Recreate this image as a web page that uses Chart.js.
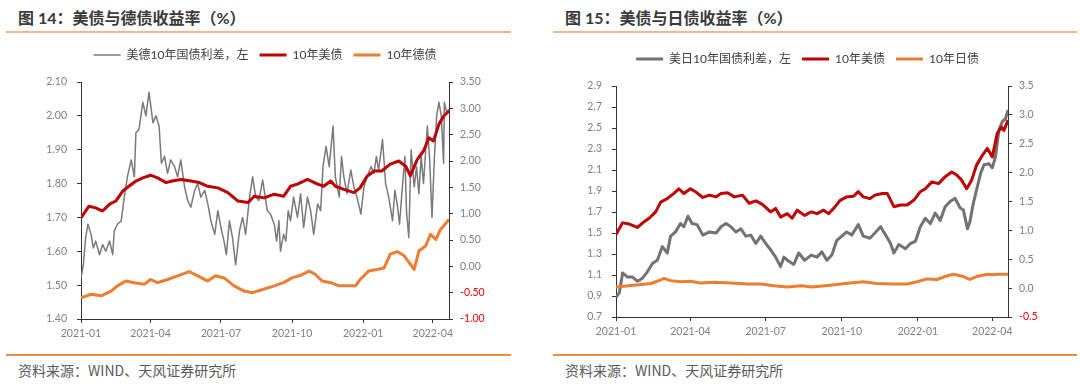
<!DOCTYPE html>
<html>
<head>
<meta charset="utf-8">
<script src="https://cdn.jsdelivr.net/npm/chart.js@4.4.1/dist/chart.umd.min.js"></script>
<style>
body { margin: 0; width: 1080px; height: 386px; background: #fff; position: relative; overflow: hidden; }
.title { position: absolute; top: 8px; font: bold 16px/20px Lato, "Noto Sans CJK SC", sans-serif; color: #3a3a3a; white-space: nowrap; }
.rule { position: absolute; height: 2px; }
.rule.top { top: 31px; background: #f5b58a; }
.rule.bot { top: 354px; background: #ef8a43; }
.src { position: absolute; top: 361px; font: 14px/18px "Noto Sans CJK SC", sans-serif; color: #595959; white-space: nowrap; }
canvas { position: absolute; }
</style>
</head>
<body>
<div class="title" style="left:18px">图 14：美债与德债收益率（%）</div>
<div class="rule top" style="left:6px;width:505px"></div>
<canvas id="c14" width="530" height="308" style="left:0;top:38px"></canvas>
<div class="rule bot" style="left:6px;width:505px"></div>
<div class="src" style="left:18px">资料来源：WIND、天风证券研究所</div>

<div class="title" style="left:565px">图 15：美债与日债收益率（%）</div>
<div class="rule top" style="left:553px;width:524px"></div>
<canvas id="c15" width="525" height="302" style="left:545px;top:42px"></canvas>
<div class="rule bot" style="left:553px;width:524px"></div>
<div class="src" style="left:565px">资料来源：WIND、天风证券研究所</div>

<script>
// x values are days counted from 2021-01-01
const quarterDays = [0, 90, 181, 273, 365, 455];
const quarterLabels = ['2021-01', '2021-04', '2021-07', '2021-10', '2022-01', '2022-04'];

// Fig 14: US vs German 10Y
const spreadDeDays = [0, 3, 6, 9, 13, 16, 19, 24, 28, 32, 37, 41, 43, 47, 52, 56, 60, 65, 69, 71, 75, 80, 84, 88, 93, 97, 101, 104, 108, 112, 116, 121, 125, 129, 134, 138, 142, 147, 151, 155, 160, 164, 168, 173, 177, 181, 185, 188, 192, 196, 200, 205, 209, 213, 218, 222, 226, 230, 235, 241, 245, 250, 253, 256, 258, 262, 265, 268, 271, 275, 280, 284, 288, 293, 297, 301, 306, 310, 313, 317, 321, 326, 329, 334, 337, 340, 344, 349, 353, 357, 362, 366, 370, 375, 379, 382, 385, 390, 394, 398, 403, 406, 409, 412, 415, 419, 421, 424, 427, 431, 434, 437, 440, 443, 448, 451, 454, 457, 460, 463, 466, 469, 470, 473, 476];
const spreadDe = [1.52, 1.56, 1.64, 1.68, 1.65, 1.61, 1.63, 1.59, 1.62, 1.60, 1.63, 1.59, 1.66, 1.68, 1.69, 1.76, 1.82, 1.87, 1.82, 1.95, 1.96, 2.04, 2.00, 2.07, 1.98, 2.00, 1.97, 1.86, 1.88, 1.83, 1.87, 1.85, 1.82, 1.87, 1.79, 1.75, 1.73, 1.78, 1.80, 1.76, 1.78, 1.74, 1.69, 1.65, 1.72, 1.67, 1.63, 1.59, 1.69, 1.64, 1.56, 1.66, 1.70, 1.65, 1.76, 1.82, 1.76, 1.75, 1.81, 1.72, 1.71, 1.68, 1.63, 1.69, 1.60, 1.65, 1.63, 1.72, 1.69, 1.76, 1.70, 1.77, 1.67, 1.76, 1.72, 1.65, 1.74, 1.72, 1.85, 1.91, 1.85, 1.97, 1.82, 1.76, 1.88, 1.82, 1.77, 1.84, 1.79, 1.76, 1.71, 1.79, 1.82, 1.85, 1.83, 1.88, 1.84, 1.93, 1.80, 1.76, 1.69, 1.78, 1.74, 1.68, 1.77, 1.88, 1.72, 1.64, 1.90, 1.79, 1.85, 1.77, 1.88, 1.80, 1.97, 1.87, 1.70, 1.87, 2.00, 2.04, 2.00, 1.86, 2.04, 2.01, 2.02];
const us14Days = [0, 10, 19, 28, 37, 45, 54, 62, 71, 80, 90, 99, 110, 118, 129, 142, 153, 164, 177, 190, 203, 216, 224, 237, 250, 262, 271, 280, 293, 306, 314, 323, 329, 340, 353, 361, 370, 379, 389, 400, 411, 420, 426, 435, 443, 450, 456, 463, 469, 476];
const us14 = [0.92, 1.14, 1.11, 1.05, 1.18, 1.24, 1.43, 1.52, 1.62, 1.68, 1.73, 1.68, 1.59, 1.62, 1.65, 1.62, 1.59, 1.52, 1.49, 1.40, 1.24, 1.21, 1.33, 1.30, 1.37, 1.33, 1.52, 1.56, 1.65, 1.56, 1.52, 1.62, 1.52, 1.46, 1.40, 1.49, 1.71, 1.81, 1.81, 1.94, 2.00, 1.90, 1.72, 2.03, 2.19, 2.44, 2.38, 2.70, 2.85, 2.95];
const de14Days = [0, 13, 26, 39, 47, 58, 69, 82, 90, 99, 112, 125, 140, 151, 164, 174, 185, 198, 211, 222, 235, 250, 262, 273, 284, 295, 303, 312, 323, 334, 344, 355, 361, 372, 383, 392, 400, 409, 418, 426, 431, 437, 446, 452, 459, 465, 476];
const de14 = [-0.60, -0.53, -0.56, -0.47, -0.37, -0.28, -0.31, -0.34, -0.25, -0.31, -0.25, -0.18, -0.10, -0.18, -0.28, -0.18, -0.22, -0.37, -0.47, -0.50, -0.44, -0.37, -0.31, -0.22, -0.17, -0.09, -0.15, -0.28, -0.31, -0.37, -0.37, -0.37, -0.25, -0.09, -0.06, -0.03, 0.23, 0.28, 0.20, 0.04, -0.06, 0.29, 0.39, 0.61, 0.51, 0.70, 0.89];
const left14Ticks = [1.4, 1.5, 1.6, 1.7, 1.8, 1.9, 2.0, 2.1];
const right14Ticks = [-1, -0.5, 0, 0.5, 1, 1.5, 2, 2.5, 3, 3.5];

// Fig 15: US vs Japan 10Y
const spreadJpDays = [0, 4, 8, 14, 20, 26, 32, 38, 44, 50, 56, 62, 66, 72, 78, 82, 87, 92, 98, 105, 113, 121, 127, 133, 139, 145, 151, 157, 163, 169, 175, 181, 187, 193, 199, 203, 209, 215, 221, 228, 236, 243, 249, 255, 261, 267, 273, 279, 285, 293, 299, 307, 313, 320, 326, 332, 336, 342, 350, 356, 362, 368, 374, 380, 386, 392, 398, 404, 410, 416, 420, 425, 428, 432, 436, 441, 445, 451, 455, 459, 463, 467, 471, 474];
const spreadJp = [0.89, 0.93, 1.12, 1.08, 1.08, 1.04, 1.07, 1.13, 1.21, 1.24, 1.37, 1.31, 1.47, 1.51, 1.59, 1.56, 1.66, 1.59, 1.58, 1.48, 1.51, 1.50, 1.56, 1.59, 1.56, 1.51, 1.54, 1.47, 1.48, 1.40, 1.47, 1.40, 1.34, 1.27, 1.18, 1.27, 1.23, 1.20, 1.31, 1.24, 1.29, 1.27, 1.32, 1.24, 1.29, 1.43, 1.47, 1.51, 1.48, 1.58, 1.47, 1.45, 1.50, 1.56, 1.48, 1.40, 1.31, 1.39, 1.35, 1.40, 1.42, 1.56, 1.64, 1.59, 1.69, 1.62, 1.75, 1.80, 1.83, 1.74, 1.72, 1.54, 1.61, 1.78, 1.91, 2.07, 2.15, 2.16, 2.12, 2.23, 2.48, 2.56, 2.59, 2.67];
const us15Days = [0, 8, 16, 26, 34, 40, 48, 54, 62, 70, 76, 82, 90, 96, 105, 113, 121, 127, 135, 143, 153, 161, 169, 177, 187, 193, 199, 207, 213, 219, 228, 236, 243, 251, 257, 265, 271, 279, 287, 293, 299, 307, 313, 322, 328, 336, 344, 352, 360, 368, 374, 382, 390, 398, 406, 412, 418, 424, 430, 436, 443, 449, 455, 461, 466, 469, 474];
const us15 = [0.93, 1.13, 1.11, 1.05, 1.15, 1.21, 1.32, 1.49, 1.55, 1.64, 1.72, 1.64, 1.72, 1.67, 1.57, 1.61, 1.58, 1.64, 1.65, 1.58, 1.61, 1.47, 1.51, 1.45, 1.32, 1.38, 1.23, 1.29, 1.21, 1.35, 1.26, 1.32, 1.29, 1.35, 1.29, 1.41, 1.52, 1.58, 1.59, 1.67, 1.58, 1.55, 1.61, 1.64, 1.64, 1.41, 1.44, 1.44, 1.52, 1.67, 1.72, 1.84, 1.81, 1.93, 2.01, 1.96, 1.87, 1.72, 1.87, 2.13, 2.30, 2.42, 2.27, 2.68, 2.79, 2.73, 2.91];
const jp15Days = [0, 22, 42, 54, 58, 66, 78, 90, 102, 119, 139, 159, 175, 191, 207, 224, 237, 259, 283, 299, 315, 336, 352, 364, 376, 388, 400, 408, 420, 428, 436, 449, 455, 461, 474];
const jp15 = [0.02, 0.05, 0.08, 0.14, 0.17, 0.13, 0.11, 0.12, 0.09, 0.10, 0.09, 0.07, 0.07, 0.04, 0.02, 0.04, 0.02, 0.05, 0.09, 0.11, 0.08, 0.07, 0.07, 0.11, 0.16, 0.15, 0.21, 0.24, 0.20, 0.15, 0.20, 0.24, 0.23, 0.24, 0.24];
const left15Ticks = [0.7, 0.9, 1.1, 1.3, 1.5, 1.7, 1.9, 2.1, 2.3, 2.5, 2.7, 2.9];
const right15Ticks = [-0.5, 0, 0.5, 1, 1.5, 2, 2.5, 3, 3.5];

const FONT = 'Lato, "Noto Sans CJK SC", sans-serif';
const AXIS = '#333333';
const TICK = '#7f7f7f';

function pairs(days, vals) {
    return days.map((d, i) => ({ x: d, y: vals[i] }));
}

function series(label, days, vals, color, width, axis, order) {
    return {
        label: label,
        data: pairs(days, vals),
        yAxisID: axis,
        order: order,
        borderColor: color,
        backgroundColor: color,
        borderWidth: width,
        pointRadius: 0,
        pointHoverRadius: 0,
        pointBorderWidth: width,
        pointBorderColor: color,
        borderJoinStyle: 'round',
        tension: 0
    };
}

// pushes the plot area down below the legend
function legendGap(extra) {
    return {
        id: 'legendGap',
        beforeInit(chart) {
            const fit = chart.legend.fit;
            chart.legend.fit = function () {
                fit.bind(chart.legend)();
                this.height += extra;
            };
        }
    };
}

function yAxis(side, tickVals, dec, width, pad) {
    return {
        position: side,
        min: tickVals[0],
        max: tickVals[tickVals.length - 1],
        afterBuildTicks: s => { s.ticks = tickVals.map(v => ({ value: v })); },
        afterFit: s => { s.width = width; },
        grid: { display: true, drawOnChartArea: false, drawTicks: true, tickLength: 4, color: AXIS },
        border: { display: true, color: AXIS, width: 1 },
        ticks: {
            padding: pad,
            font: { size: 10.5, family: FONT },
            color: ctx => ctx.tick && ctx.tick.value < 0 ? '#ff0000' : TICK,
            callback: v => v.toFixed(dec)
        }
    };
}

function makeChart(id, datasets, maxDay, left, right) {
    new Chart(document.getElementById(id), {
        type: 'line',
        data: { datasets: datasets },
        options: {
            responsive: false,
            animation: false,
            layout: { padding: 0 },
            plugins: {
                tooltip: { enabled: false },
                legend: {
                    position: 'top',
                    labels: {
                        usePointStyle: true,
                        pointStyle: 'line',
                        pointStyleWidth: 27,
                        padding: 11,
                        color: '#404040',
                        font: { size: 12, family: FONT },
                        sort: (a, b) => a.datasetIndex - b.datasetIndex
                    }
                }
            },
            scales: {
                x: {
                    type: 'linear',
                    min: 0,
                    max: maxDay,
                    afterBuildTicks: s => { s.ticks = quarterDays.map(v => ({ value: v })); },
                    afterFit: s => { s.height = 27; },
                    grid: { display: true, drawOnChartArea: false, drawTicks: true, tickLength: 4, color: AXIS },
                    border: { display: true, color: AXIS, width: 1 },
                    ticks: {
                        autoSkip: false,
                        maxRotation: 0,
                        padding: 4,
                        font: { size: 10.5, family: FONT },
                        color: TICK,
                        callback: (v, i) => quarterLabels[i]
                    }
                },
                yL: left,
                yR: right
            }
        },
        plugins: [legendGap(11)]
    });
}

makeChart('c14', [
    series('美德10年国债利差，左', spreadDeDays, spreadDe, '#7a7a7a', 1.5, 'yL', 3),
    series('10年美债', us14Days, us14, '#c00000', 3, 'yR', 1),
    series('10年德债', de14Days, de14, '#ed7d31', 3, 'yR', 2)
], 476, yAxis('left', left14Ticks, 2, 81, 10), yAxis('right', right14Ticks, 2, 81, 7));

makeChart('c15', [
    series('美日10年国债利差，左', spreadJpDays, spreadJp, '#767171', 3, 'yL', 3),
    series('10年美债', us15Days, us15, '#c00000', 3, 'yR', 1),
    series('10年日债', jp15Days, jp15, '#ed7d31', 3, 'yR', 2)
], 474, yAxis('left', left15Ticks, 1, 71, 10), yAxis('right', right15Ticks, 1, 62, 7));
</script>
</body>
</html>
